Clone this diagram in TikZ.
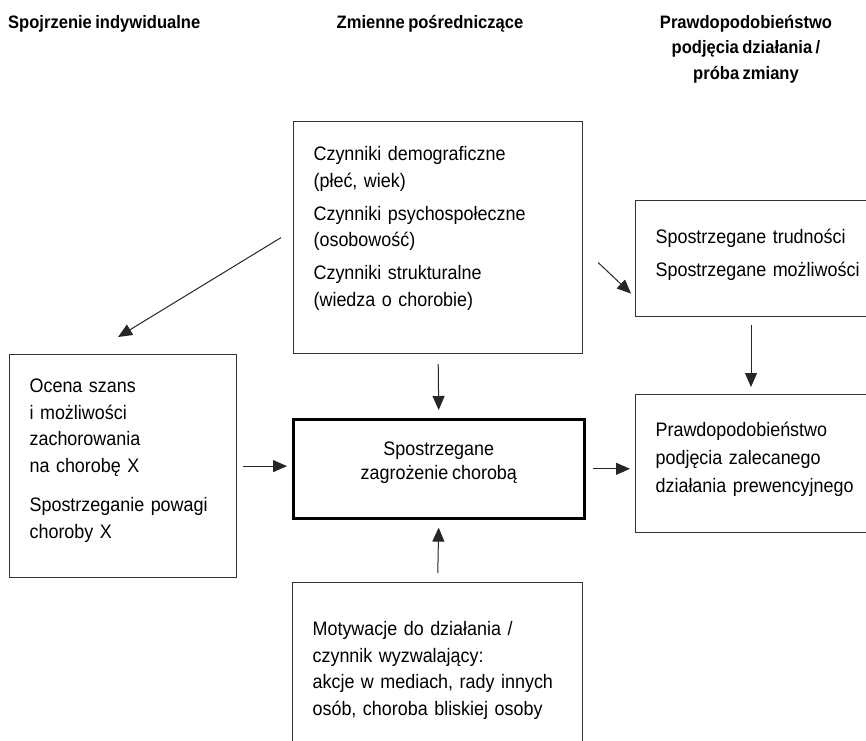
\documentclass[tikz,border=0pt]{standalone}
\usepackage{fontspec}
\setmainfont{Liberation Sans}[FakeStretch=0.92, WordSpace=0.75]
\usetikzlibrary{arrows.meta}

\newcommand{\boxfont}{\fontsize{19.5}{26.5}\selectfont}
\newcommand{\headfont}{\fontsize{18}{25.5}\selectfont\bfseries}

\tikzset{
  box/.style={draw=black!80, line width=1.2pt, anchor=north west, align=left,
    inner xsep=20pt, inner ysep=0pt, font=\boxfont},
  mainbox/.style={draw=black, line width=2.6pt, anchor=north west, align=center,
    inner sep=0pt, font=\boxfont},
  firstbase/.style={text height=0pt, text depth=#1},
  lastbase/.style={text height=#1, text depth=0pt},
  head/.style={font=\headfont, align=center, inner sep=0pt},
  arr/.style={-{Triangle[length=14pt,width=12pt]}, line width=1pt, draw=black!85},
}

\begin{document}
\begin{tikzpicture}[x=1pt,y=-1pt]
    \useasboundingbox (0,0) rectangle (866,740);

    % column headings
    \node[head, anchor=base west] (hind) at (8,28) {Spojrzenie indywidualne};
    \node[head, anchor=base] (hzm) at (430,28) {Zmienne pośredniczące};
    \node[head, anchor=base] (hpr) at (746,79) {Prawdopodobieństwo\\podjęcia działania /\\próba zmiany};

    % boxes
    \node[box, firstbase=154pt, text width=249pt, minimum height=232pt] (czyn) at (293,121)
        {Czynniki demograficzne\\(płeć, wiek)\\[6.5pt]Czynniki psychospołeczne\\(osobowość)\\[6.5pt]Czynniki strukturalne\\(wiedza o chorobie)};
    \node[box, firstbase=30pt, text width=230pt, minimum height=116pt] (trud) at (635,200)
        {Spostrzegane trudności\\[6.5pt]Spostrzegane możliwości};
    \node[box, firstbase=147pt, text width=187pt, minimum height=223pt] (ocena) at (9,354)
        {Ocena szans\\i możliwości\\zachorowania\\na chorobę X\\[13pt]Spostrzeganie powagi\\choroby X};
    \node[mainbox, lastbase=21pt, minimum width=291pt, minimum height=99pt] (zagr) at (292,418)
        {Spostrzegane\\[-2.5pt]zagrożenie chorobą};
    \node[box, firstbase=54pt, text width=230pt, minimum height=138pt] (prawd) at (635,394)
        {Prawdopodobieństwo\\[1.5pt]podjęcia zalecanego\\[1.5pt]działania prewencyjnego};
    \node[box, firstbase=70pt, text width=250pt, minimum height=176pt] (motyw) at (292,582)
        {Motywacje do działania /\\czynnik wyzwalający:\\akcje w mediach, rady innych\\osób, choroba bliskiej osoby};

    % arrows
    \draw[arr] ([xshift=-12pt]czyn.west) -- ([xshift=-5pt,yshift=17pt]ocena.north);
    \draw[arr] ([xshift=15pt,yshift=-25pt]czyn.east) -- ([xshift=-4pt,yshift=-35pt]trud.west);
    \draw[arr, shorten <=10pt, shorten >=8pt] (czyn.south) -- (zagr.north);
    \draw[arr, shorten <=8pt, shorten >=7pt] ([xshift=116pt]trud.south west) -- ([xshift=116pt]prawd.north west);
    \draw[arr, shorten <=6pt, shorten >=5pt] (ocena.east) -- (ocena.east -| zagr.west);
    \draw[arr, shorten <=7pt, shorten >=5pt] (zagr.east) -- (zagr.east -| prawd.west);
    \draw[arr, shorten <=9pt, shorten >=8pt] (motyw.north) -- (zagr.south);
\end{tikzpicture}
\end{document}
